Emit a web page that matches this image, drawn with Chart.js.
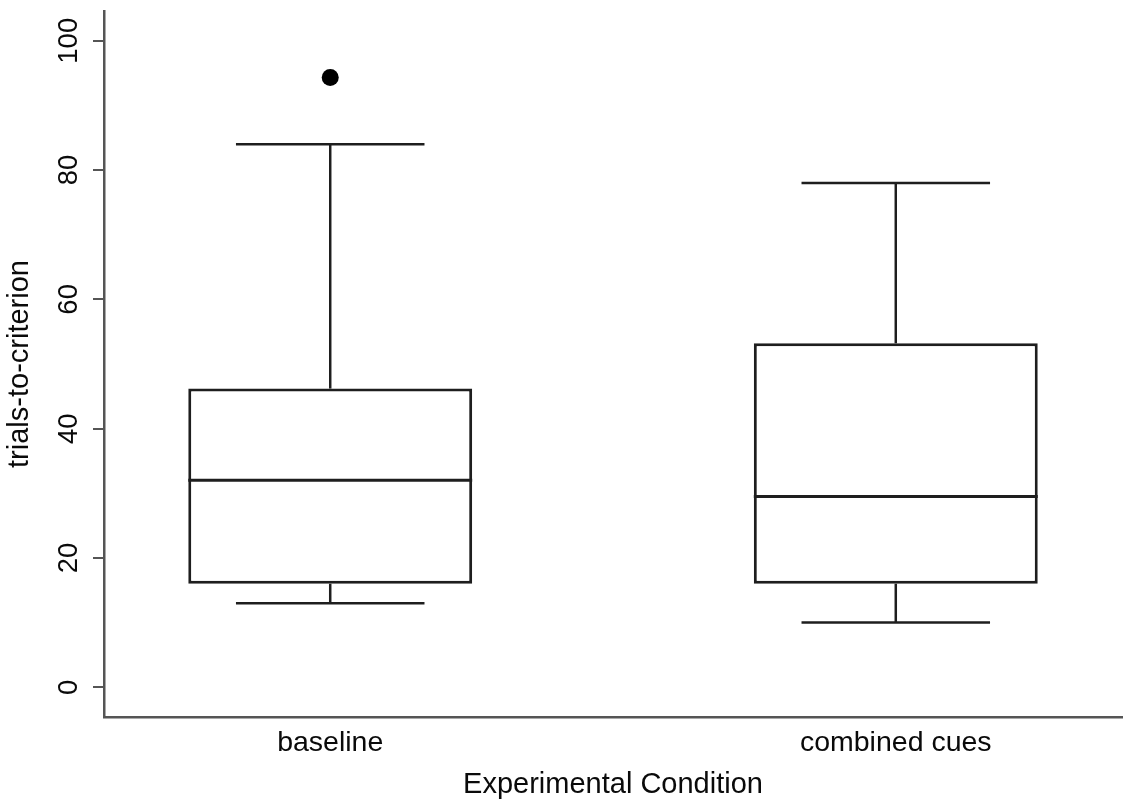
<!DOCTYPE html>
<html>
<head>
<meta charset="utf-8">
<title>trials-to-criterion by experimental condition</title>
<script src="https://cdn.jsdelivr.net/npm/chart.js@4.4.1/dist/chart.umd.min.js"></script>
<style>
  html, body { margin: 0; padding: 0; background: #fff; }
  #chart { display: block; }
</style>
</head>
<body>
<canvas id="chart" width="1133" height="801"></canvas>
<script>
// Five-number summaries per condition (Tukey box plot)
const categories  = ['baseline', 'combined cues'];
const whiskerLow  = [13, 10];
const quartile1   = [16, 16];
const medians     = [32, 29.5];
const quartile3   = [46.2, 53.2];
const whiskerHigh = [84, 78];
const outliers    = [[94.3], []];
const yTicks      = [0, 20, 40, 60, 80, 100];

const INK  = '#1e1e1e';
const AXIS = '#555';
const TEXT = '#0a0a0a';
const FONT = "'Liberation Sans', Arial, Helvetica, sans-serif";

const BOX_HALF = 0.251;   // half box width in category units
const CAP_HALF = 1 / 6;   // half whisker-cap width in category units

const xOf = i => i + 1;

Chart.defaults.font.family = FONT;
Chart.defaults.color = TEXT;

function segment(points, width) {
  return {
    type: 'line',
    data: points,
    borderColor: INK,
    borderWidth: width,
    borderCapStyle: 'butt',
    pointRadius: 0,
    fill: false,
    order: 0
  };
}

const datasets = [];

// Boxes from Q1 to Q3
datasets.push({
  type: 'bar',
  data: categories.map((c, i) => ({ x: xOf(i), y: [quartile1[i], quartile3[i]] })),
  backgroundColor: '#fff',
  borderColor: INK,
  borderWidth: 3,
  borderSkipped: false,
  categoryPercentage: 1,
  barPercentage: 2 * BOX_HALF,
  order: 10
});

categories.forEach((c, i) => {
  const x = xOf(i);
  // whiskers
  datasets.push(segment([{ x, y: quartile3[i] }, { x, y: whiskerHigh[i] }], 2.5));
  datasets.push(segment([{ x, y: quartile1[i] }, { x, y: whiskerLow[i] }], 2.5));
  // caps
  datasets.push(segment([{ x: x - CAP_HALF, y: whiskerHigh[i] }, { x: x + CAP_HALF, y: whiskerHigh[i] }], 2.5));
  datasets.push(segment([{ x: x - CAP_HALF, y: whiskerLow[i] }, { x: x + CAP_HALF, y: whiskerLow[i] }], 2.5));
  // median
  datasets.push(segment([{ x: x - BOX_HALF, y: medians[i] }, { x: x + BOX_HALF, y: medians[i] }], 3));
});

// Outside values
datasets.push({
  type: 'scatter',
  data: outliers.flatMap((vals, i) => vals.map(v => ({ x: xOf(i), y: v }))),
  backgroundColor: '#000',
  borderWidth: 0,
  pointRadius: 8.5,
  order: 0
});

new Chart(document.getElementById('chart'), {
  type: 'bar',
  data: { datasets },
  options: {
    responsive: false,
    animation: false,
    events: [],
    layout: { padding: { top: 11, right: 11, bottom: 0, left: 0 } },
    plugins: { legend: { display: false }, tooltip: { enabled: false } },
    scales: {
      x: {
        type: 'linear',
        min: 0.6,
        max: 2.4,
        offset: false,
        grid: { display: false, drawTicks: false },
        border: { display: true, color: AXIS, width: 2.5 },
        afterBuildTicks: s => { s.ticks = categories.map((c, i) => ({ value: xOf(i) })); },
        ticks: {
          autoSkip: false,
          maxRotation: 0,
          padding: 9,
          color: TEXT,
          font: { size: 28.5 },
          callback: v => categories[Math.round(v) - 1] ?? ''
        },
        title: {
          display: true,
          text: 'Experimental Condition',
          color: TEXT,
          font: { size: 29, lineHeight: 1 },
          padding: { top: 0, bottom: 2 }
        },
        afterFit: s => { s.height = 84; s.paddingLeft = 0; s.paddingRight = 0; }
      },
      y: {
        type: 'linear',
        min: -4.6,
        max: 104.6,
        afterBuildTicks: s => { s.ticks = yTicks.map(v => ({ value: v })); },
        grid: { display: true, drawOnChartArea: false, drawTicks: true, tickLength: 11, color: AXIS, lineWidth: 2 },
        border: { display: true, color: AXIS, width: 2.5 },
        ticks: {
          minRotation: 90,
          maxRotation: 90,
          crossAlign: 'center',
          padding: 1,
          color: TEXT,
          font: { size: 27.5 }
        },
        title: {
          display: true,
          text: 'trials-to-criterion',
          color: TEXT,
          font: { size: 29, lineHeight: 1.2 },
          padding: { top: 3, bottom: 0 }
        },
        afterFit: s => { s.width = 104; s.paddingTop = 0; s.paddingBottom = 0; }
      }
    }
  }
});
</script>
</body>
</html>
